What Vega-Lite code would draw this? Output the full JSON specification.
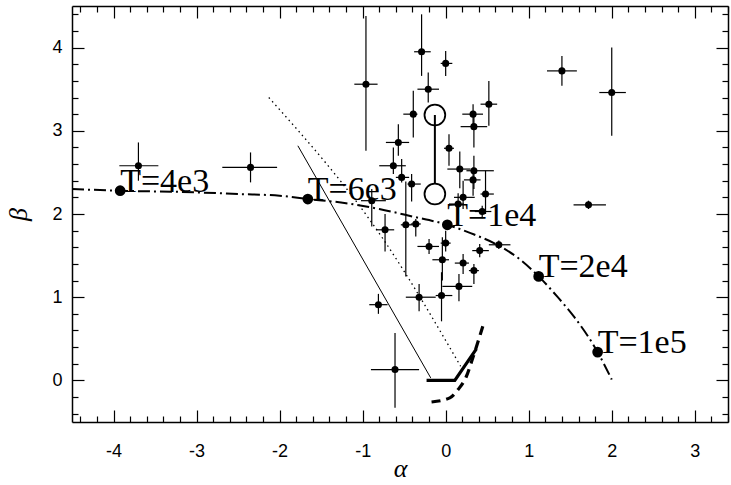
{
  "$schema": "https://vega.github.io/schema/vega-lite/v6.json",
  "autosize": {"type": "none"},
  "padding": {"left": 72, "top": 6, "right": 3, "bottom": 63},
  "width": 656,
  "height": 416,
  "background": "white",
  "config": {
    "view": {"stroke": null},
    "axis": {"grid": false, "domainColor": "black", "domainWidth": 1.5, "tickColor": "black", "tickWidth": 1.2, "labelColor": "black", "titleColor": "black", "labelFont": "Liberation Sans", "labelFontSize": 18, "titleFont": "Liberation Serif", "titleFontStyle": "italic", "titleFontWeight": "normal", "titleFontSize": 26}
  },
  "datasets": {
    "pts": [
      {"a":-3.70,"b":2.58,"alo":-3.93,"ahi":-3.46,"blo":2.40,"bhi":2.86},
      {"a":-2.35,"b":2.56,"alo":-2.69,"ahi":-2.03,"blo":2.38,"bhi":2.74},
      {"a":-0.96,"b":3.56,"alo":-1.10,"ahi":-0.82,"blo":2.76,"bhi":4.38},
      {"a":-0.29,"b":3.95,"alo":-0.38,"ahi":-0.18,"blo":3.66,"bhi":4.40},
      {"a":0.00,"b":3.81,"alo":-0.06,"ahi":0.08,"blo":3.66,"bhi":3.96},
      {"a":-0.21,"b":3.50,"alo":-0.34,"ahi":-0.08,"blo":3.34,"bhi":3.70},
      {"a":-0.39,"b":3.20,"alo":-0.51,"ahi":-0.34,"blo":2.92,"bhi":3.48},
      {"a":-0.57,"b":2.86,"alo":-0.72,"ahi":-0.44,"blo":2.70,"bhi":3.08},
      {"a":-0.63,"b":2.58,"alo":-0.80,"ahi":-0.48,"blo":2.48,"bhi":2.80},
      {"a":-0.53,"b":2.44,"alo":-0.60,"ahi":-0.44,"blo":2.38,"bhi":2.66},
      {"a":-0.41,"b":2.36,"alo":-0.46,"ahi":-0.30,"blo":2.15,"bhi":2.48},
      {"a":-0.89,"b":2.16,"alo":-1.02,"ahi":-0.72,"blo":1.85,"bhi":2.30},
      {"a":-0.48,"b":1.87,"alo":-0.54,"ahi":-0.40,"blo":1.25,"bhi":2.39},
      {"a":-0.36,"b":1.88,"alo":-0.42,"ahi":-0.30,"blo":1.73,"bhi":1.94},
      {"a":-0.73,"b":1.81,"alo":-0.84,"ahi":-0.62,"blo":1.55,"bhi":2.00},
      {"a":-0.81,"b":0.91,"alo":-0.92,"ahi":-0.70,"blo":0.80,"bhi":1.04},
      {"a":-0.61,"b":0.13,"alo":-0.90,"ahi":-0.32,"blo":-0.33,"bhi":0.57},
      {"a":-0.20,"b":1.61,"alo":-0.34,"ahi":-0.08,"blo":1.52,"bhi":1.70},
      {"a":-0.04,"b":1.45,"alo":-0.16,"ahi":0.04,"blo":1.20,"bhi":1.72},
      {"a":-0.32,"b":1.00,"alo":-0.48,"ahi":-0.12,"blo":0.83,"bhi":1.16},
      {"a":-0.05,"b":1.02,"alo":-0.12,"ahi":0.08,"blo":0.71,"bhi":1.30},
      {"a":0.00,"b":1.65,"alo":-0.06,"ahi":0.06,"blo":1.55,"bhi":1.80},
      {"a":0.21,"b":1.41,"alo":0.11,"ahi":0.28,"blo":1.28,"bhi":1.52},
      {"a":0.34,"b":1.32,"alo":0.28,"ahi":0.40,"blo":1.16,"bhi":1.40},
      {"a":0.16,"b":1.13,"alo":-0.04,"ahi":0.32,"blo":0.95,"bhi":1.28},
      {"a":0.41,"b":1.56,"alo":0.32,"ahi":0.52,"blo":1.48,"bhi":1.64},
      {"a":0.64,"b":1.63,"alo":0.52,"ahi":0.78,"blo":1.58,"bhi":1.68},
      {"a":0.17,"b":2.54,"alo":0.02,"ahi":0.30,"blo":2.31,"bhi":2.75},
      {"a":0.34,"b":2.52,"alo":0.25,"ahi":0.58,"blo":2.30,"bhi":2.70},
      {"a":0.33,"b":2.41,"alo":0.22,"ahi":0.42,"blo":2.22,"bhi":2.56},
      {"a":0.48,"b":2.24,"alo":0.42,"ahi":0.58,"blo":2.00,"bhi":2.52},
      {"a":0.21,"b":2.20,"alo":0.10,"ahi":0.35,"blo":2.06,"bhi":2.40},
      {"a":0.15,"b":2.12,"alo":0.04,"ahi":0.22,"blo":2.00,"bhi":2.25},
      {"a":0.44,"b":2.03,"alo":0.35,"ahi":0.55,"blo":1.95,"bhi":2.10},
      {"a":0.04,"b":2.79,"alo":-0.02,"ahi":0.10,"blo":2.58,"bhi":2.96},
      {"a":0.33,"b":3.20,"alo":0.20,"ahi":0.45,"blo":3.06,"bhi":3.32},
      {"a":0.34,"b":3.05,"alo":0.18,"ahi":0.50,"blo":2.80,"bhi":3.20},
      {"a":0.52,"b":3.32,"alo":0.42,"ahi":0.62,"blo":3.06,"bhi":3.60},
      {"a":1.40,"b":3.72,"alo":1.22,"ahi":1.58,"blo":3.54,"bhi":3.90},
      {"a":2.00,"b":3.46,"alo":1.85,"ahi":2.17,"blo":2.94,"bhi":4.00},
      {"a":1.72,"b":2.11,"alo":1.54,"ahi":1.93,"blo":2.06,"bhi":2.16}
    ],
    "curve": [
      {"a":-4.5,"b":2.30},{"a":-3.92,"b":2.28},{"a":-3.0,"b":2.26},{"a":-2.5,"b":2.24},{"a":-2.0,"b":2.22},
      {"a":-1.66,"b":2.18},{"a":-1.2,"b":2.13},{"a":-0.8,"b":2.06},{"a":-0.4,"b":1.97},{"a":0.02,"b":1.87},
      {"a":0.3,"b":1.77},{"a":0.64,"b":1.62},{"a":0.9,"b":1.45},{"a":1.12,"b":1.25},{"a":1.35,"b":1.00},
      {"a":1.55,"b":0.76},{"a":1.83,"b":0.34},{"a":2.0,"b":0.01}
    ],
    "model": [
      {"a":-3.92,"b":2.28,"label":"T=4e3"},
      {"a":-1.66,"b":2.18,"label":"T=6e3"},
      {"a":0.02,"b":1.87,"label":"T=1e4"},
      {"a":1.12,"b":1.25,"label":"T=2e4"},
      {"a":1.83,"b":0.34,"label":"T=1e5"}
    ],
    "thin": [{"a":-1.78,"b":2.82},{"a":-0.18,"b":0.03}],
    "dotted": [{"a":-2.13,"b":3.40},{"a":-0.74,"b":1.68},{"a":0.18,"b":0.17}],
    "thick": [{"a":-0.23,"b":0.0},{"a":0.11,"b":0.0},{"a":0.37,"b":0.38}],
    "dashed": [{"a":-0.17,"b":-0.26},{"a":0.05,"b":-0.21},{"a":0.15,"b":-0.11},{"a":0.25,"b":0.05},{"a":0.33,"b":0.28},{"a":0.45,"b":0.66}],
    "open": [{"a":-0.13,"b":3.19},{"a":-0.13,"b":2.24}],
    "conn": [{"a":-0.13,"b":3.19,"b2":2.37}]
  },
  "resolve": {"axis": {"x": "independent", "y": "independent"}},
  "layer": [
    {
      "data": {"name": "pts"},
      "mark": {"type": "rule", "color": "black", "strokeWidth": 1.2},
      "encoding": {
        "x": {"field": "alo", "type": "quantitative", "scale": {"domain": [-4.5, 3.4], "nice": false, "zero": false},
              "axis": {"orient": "bottom", "values": [-4.4,-4.2,-3.8,-3.6,-3.4,-3.2,-2.8,-2.6,-2.4,-2.2,-1.8,-1.6,-1.4,-1.2,-0.8,-0.6,-0.4,-0.2,0.2,0.4,0.6,0.8,1.2,1.4,1.6,1.8,2.2,2.4,2.6,2.8,3.2,3.4], "tickSize": -6, "labels": false, "domain": false, "title": null}},
        "x2": {"field": "ahi"},
        "y": {"field": "b", "type": "quantitative", "scale": {"domain": [-0.5, 4.5], "nice": false, "zero": false},
              "axis": {"orient": "left", "values": [-0.4,-0.2,0.2,0.4,0.6,0.8,1.2,1.4,1.6,1.8,2.2,2.4,2.6,2.8,3.2,3.4,3.6,3.8,4.2,4.4], "tickSize": -6, "labels": false, "domain": false, "title": null}}
      }
    },
    {
      "data": {"name": "pts"},
      "mark": {"type": "rule", "color": "black", "strokeWidth": 1.2},
      "encoding": {
        "x": {"field": "a", "type": "quantitative",
              "axis": {"orient": "top", "values": [-4,-3,-2,-1,0,1,2,3], "tickSize": -12, "labels": false, "domain": true, "title": null}},
        "y": {"field": "blo", "type": "quantitative",
              "axis": {"orient": "right", "values": [0,1,2,3,4], "tickSize": -12, "labels": false, "domain": true, "title": null}},
        "y2": {"field": "bhi"}
      }
    },
    {
      "data": {"name": "curve"},
      "mark": {"type": "line", "color": "black", "strokeWidth": 2, "strokeDash": [12, 4, 2, 4], "interpolate": "monotone"},
      "encoding": {
        "x": {"field": "a", "type": "quantitative",
              "axis": {"orient": "top", "values": [-4.4,-4.2,-3.8,-3.6,-3.4,-3.2,-2.8,-2.6,-2.4,-2.2,-1.8,-1.6,-1.4,-1.2,-0.8,-0.6,-0.4,-0.2,0.2,0.4,0.6,0.8,1.2,1.4,1.6,1.8,2.2,2.4,2.6,2.8,3.2,3.4], "tickSize": -6, "labels": false, "domain": false, "title": null}},
        "y": {"field": "b", "type": "quantitative",
              "axis": {"orient": "right", "values": [-0.4,-0.2,0.2,0.4,0.6,0.8,1.2,1.4,1.6,1.8,2.2,2.4,2.6,2.8,3.2,3.4,3.6,3.8,4.2,4.4], "tickSize": -6, "labels": false, "domain": false, "title": null}}
      }
    },
    {
      "data": {"name": "thin"},
      "mark": {"type": "line", "color": "black", "strokeWidth": 1},
      "encoding": {"x": {"field": "a", "type": "quantitative", "axis": null}, "y": {"field": "b", "type": "quantitative", "axis": null}}
    },
    {
      "data": {"name": "dotted"},
      "mark": {"type": "line", "color": "black", "strokeWidth": 1.3, "strokeDash": [1.5, 3.5], "interpolate": "monotone"},
      "encoding": {"x": {"field": "a", "type": "quantitative", "axis": null}, "y": {"field": "b", "type": "quantitative", "axis": null}}
    },
    {
      "data": {"name": "thick"},
      "mark": {"type": "line", "color": "black", "strokeWidth": 3.2},
      "encoding": {"x": {"field": "a", "type": "quantitative", "axis": null}, "y": {"field": "b", "type": "quantitative", "axis": null}}
    },
    {
      "data": {"name": "dashed"},
      "mark": {"type": "line", "color": "black", "strokeWidth": 3.2, "strokeDash": [9, 6], "interpolate": "monotone"},
      "encoding": {"x": {"field": "a", "type": "quantitative", "axis": null}, "y": {"field": "b", "type": "quantitative", "axis": null}}
    },
    {
      "data": {"name": "conn"},
      "mark": {"type": "rule", "color": "black", "strokeWidth": 2},
      "encoding": {"x": {"field": "a", "type": "quantitative", "axis": null}, "y": {"field": "b", "type": "quantitative", "axis": null}, "y2": {"field": "b2"}}
    },
    {
      "data": {"name": "open"},
      "mark": {"type": "point", "shape": "circle", "filled": false, "color": "black", "strokeWidth": 1.8, "size": 430, "opacity": 1},
      "encoding": {"x": {"field": "a", "type": "quantitative", "axis": null}, "y": {"field": "b", "type": "quantitative", "axis": null}}
    },
    {
      "data": {"name": "model"},
      "mark": {"type": "circle", "color": "black", "size": 115, "opacity": 1},
      "encoding": {"x": {"field": "a", "type": "quantitative", "axis": null}, "y": {"field": "b", "type": "quantitative", "axis": null}}
    },
    {
      "data": {"name": "model"},
      "mark": {"type": "text", "align": "left", "baseline": "alphabetic", "font": "Liberation Serif", "fontSize": 34, "color": "black", "dx": 0, "dy": 1},
      "encoding": {"x": {"field": "a", "type": "quantitative", "axis": null}, "y": {"field": "b", "type": "quantitative", "axis": null}, "text": {"field": "label"}}
    },
    {
      "data": {"name": "pts"},
      "mark": {"type": "circle", "color": "black", "size": 50, "opacity": 1},
      "encoding": {
        "x": {"field": "a", "type": "quantitative",
              "axis": {"orient": "bottom", "values": [-4,-3,-2,-1,0,1,2,3], "tickSize": -12, "labelPadding": 32, "labelFontSize": 18, "labelExpr": "'' + datum.value", "domain": true, "title": "α", "titlePadding": -5, "titleFontSize": 26}},
        "y": {"field": "b", "type": "quantitative",
              "axis": {"orient": "left", "values": [0,1,2,3,4], "tickSize": -12, "labelPadding": 22, "labelFontSize": 18, "labelExpr": "'' + datum.value", "domain": true, "title": "β", "titlePadding": 20, "titleFontSize": 26}}
      }
    }
  ]
}
